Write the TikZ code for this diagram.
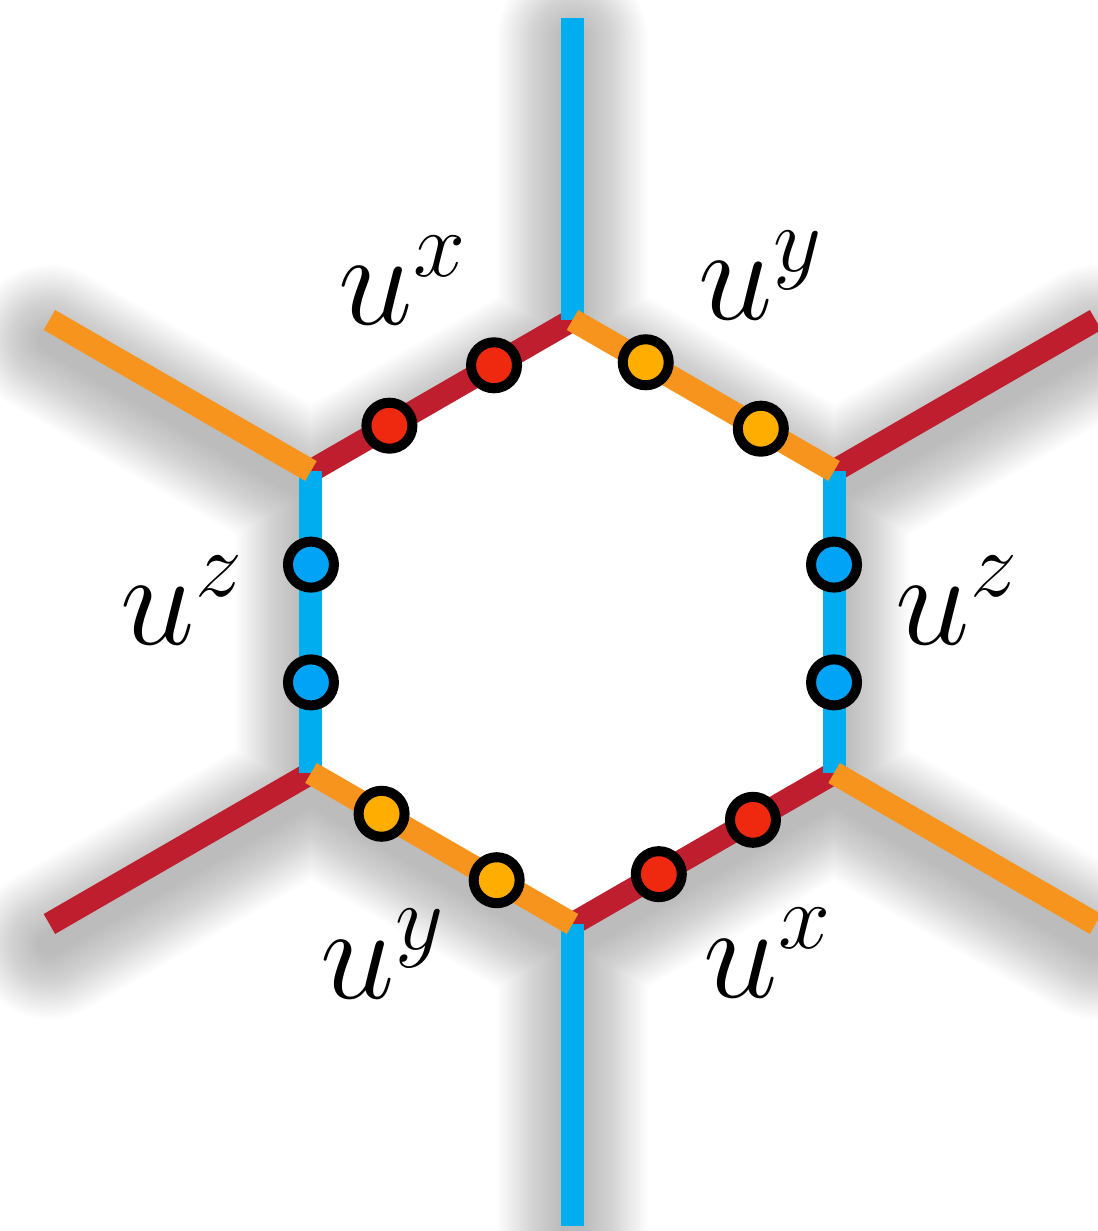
\RequirePackage{fix-cm}
\documentclass[tikz,border=0pt]{standalone}
\definecolor{edgered}{HTML}{BE1E2D}
\definecolor{edgeorange}{HTML}{F7941D}
\definecolor{edgeblue}{HTML}{00AEEF}
\definecolor{dotred}{HTML}{EF2810}
\definecolor{dotorange}{HTML}{FFAE00}
\definecolor{dotblue}{HTML}{00A3F5}
\tikzset{
  bond/.style={line width=0.23cm},
  spin/.style={circle, draw=black, line width=0.1cm, minimum size=0.46cm, inner sep=0pt},
  opname/.style={anchor=base west, inner sep=0pt, font=\fontsize{38}{40}\selectfont}
}
\begin{document}
\begin{tikzpicture}
\useasboundingbox (-5.725,-6.09) rectangle (5.245,6.22);
% corners of the plaquette and the open ends of the legs
\foreach \a/\n in {90/t,30/ur,-30/lr,-90/b,-150/ll,150/ul} {
  \coordinate (v\n) at (\a:3.02);
  \coordinate (e\n) at (\a:6.04);
}
% soft shadow
\begin{scope}[transform canvas={yshift=-0.2cm}]
\foreach \k in {1,...,26} {
  \pgfmathsetmacro{\w}{0.2+0.05*\k}
  \draw[black, opacity=0.013, line width=\w cm, line cap=round]
    (vt) -- (vur) -- (vlr) -- (vb) -- (vll) -- (vul) -- cycle
    (vt) -- (et) (vur) -- (eur) (vlr) -- (elr)
    (vb) -- (eb) (vll) -- (ell) (vul) -- (eul);
}
\end{scope}
\fill[white] (vt) -- (vur) -- (vlr) -- (vb) -- (vll) -- (vul) -- cycle;
% x bonds
\draw[bond, edgered] (vur) -- (eur);
\draw[bond, edgered] (vll) -- (ell);
\draw[bond, edgered] (vt) -- (vul)
  node[spin, fill=dotred, pos=0.3] (sx1) {}
  node[spin, fill=dotred, pos=0.7] (sx2) {};
\draw[bond, edgered] (vb) -- (vlr)
  node[spin, fill=dotred, pos=0.33] (sx3) {}
  node[spin, fill=dotred, pos=0.69] (sx4) {};
% z bonds
\draw[bond, edgeblue] (vt) -- (et);
\draw[bond, edgeblue] (vb) -- (eb);
\draw[bond, edgeblue] (vur) -- (vlr)
  node[spin, fill=dotblue, pos=0.31] (sz1) {}
  node[spin, fill=dotblue, pos=0.7] (sz2) {};
\draw[bond, edgeblue] (vul) -- (vll)
  node[spin, fill=dotblue, pos=0.31] (sz3) {}
  node[spin, fill=dotblue, pos=0.7] (sz4) {};
% y bonds
\draw[bond, edgeorange] (vul) -- (eul);
\draw[bond, edgeorange] (vlr) -- (elr);
\draw[bond, edgeorange] (vt) -- (vur)
  node[spin, fill=dotorange, pos=0.28] (sy1) {}
  node[spin, fill=dotorange, pos=0.72] (sy2) {};
\draw[bond, edgeorange] (vll) -- (vb)
  node[spin, fill=dotorange, pos=0.27] (sy3) {}
  node[spin, fill=dotorange, pos=0.71] (sy4) {};
% bond operators
\node[opname] (ux1) at (-2.345,2.97) {$u^x$};
\node[opname] (uy1) at (1.255,3.02) {$u^y$};
\node[opname] (uz1) at (-4.525,-0.23) {$u^z$};
\node[opname] (uz2) at (3.225,-0.23) {$u^z$};
\node[opname] (uy2) at (-2.525,-3.76) {$u^y$};
\node[opname] (ux2) at (1.305,-3.75) {$u^x$};
\end{tikzpicture}
\end{document}
